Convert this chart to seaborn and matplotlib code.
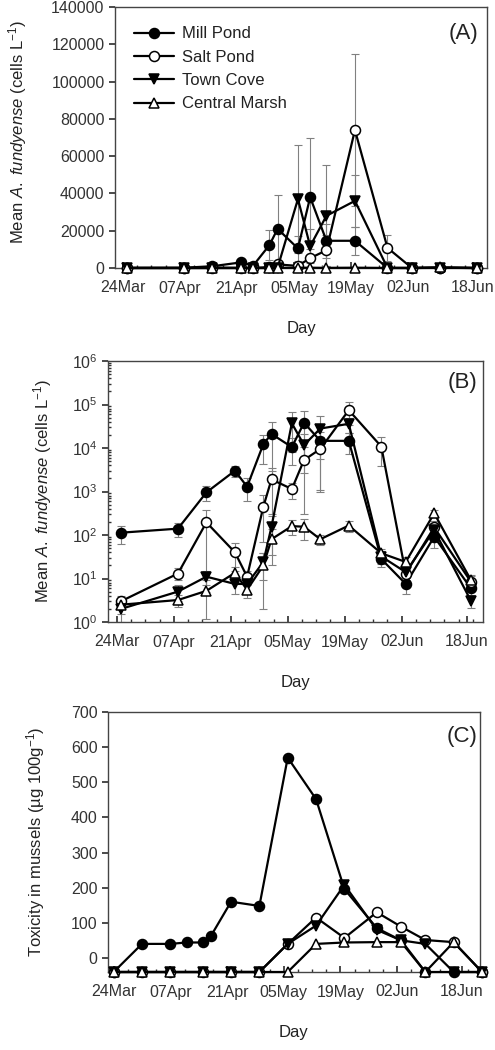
import numpy as np
import pandas as pd
import matplotlib
matplotlib.use('Agg')
import matplotlib.pyplot as plt
import seaborn as sns
from matplotlib.ticker import FixedLocator, MultipleLocator, LogLocator, NullFormatter

# days after 24 Mar, cell counts (A, B)
days_ab = [1, 15, 22, 29, 32, 36, 38, 43, 46, 50, 57, 65, 71, 78, 87]
mill_pond = [113, 140, 955, 3000, 1290, 12300, 21000, 10500, 38000, 14600, 14600, 28, 7.5, 91, 6]
mill_pond_sd = [50, 50, 350, 900, 700, 8000, 18000, 6500, 32000, 9000, 7500, 10, 3, 40, 2]
salt_pond = [3, 13, 195, 40, 11, 450, 1900, 1140, 5300, 9500, 74000, 10800, 13, 150, 8.5]
salt_pond_sd = [1, 4, 190, 25, 4, 380, 1600, 450, 5000, 8400, 41000, 7000, 4, 60, 3]
town_cove = [2, 5, 11, 7.5, 7.5, 24, 155, 37000, 11700, 28000, 36000, 32, 14, 130, 3.1]
town_cove_sd = [1, 2, 4, 3, 3, 15, 120, 29000, 9000, 27000, 14000, 10, 5, 60, 1]
central_marsh = [2.5, 3.2, 5.2, 13.5, 5.5, 20, 80, 160, 155, 80, 165, 38, 24, 315, 9.3]
central_marsh_sd = [1, 1, 4, 5, 2, 18, 60, 60, 80, 20, 50, 10, 8, 60, 3]

# toxicity (C); ND = below detection, drawn on the floor; nan = not sampled
ND = -40
nan = np.nan
days_c = [0, 7, 14, 18, 22, 24, 29, 36, 43, 50, 57, 65, 71, 77, 84, 91]
mill_pond_tox = [ND, 40, 40, 44, 44, 62, 160, 148, 570, 452, 196, 85, 50, ND, ND, ND]
salt_pond_tox = [ND, ND, ND, nan, ND, nan, ND, ND, 40, 115, 57, 130, 89, 51, 45, ND]
town_cove_tox = [ND, ND, ND, nan, ND, nan, ND, ND, 40, 92, 208, 80, 50, 40, ND, ND]
central_marsh_tox = [ND, ND, ND, nan, ND, nan, ND, ND, ND, 40, 44, 45, 45, ND, 45, ND]

sites = ['Mill Pond', 'Salt Pond', 'Town Cove', 'Central Marsh']
tick_days = [0, 14, 28, 42, 56, 70, 86]
tick_labels = ['24Mar', '07Apr', '21Apr', '05May', '19May', '02Jun', '18Jun']

styles = {
    'Mill Pond': ('o', 'black'),
    'Salt Pond': ('o', 'white'),
    'Town Cove': ('v', 'black'),
    'Central Marsh': ('^', 'white'),
}

sns.set_theme(style='white')
plt.rcParams['font.family'] = ['Liberation Sans', 'DejaVu Sans']
plt.rcParams['mathtext.fontset'] = 'custom'
plt.rcParams['mathtext.rm'] = 'Liberation Sans'
plt.rcParams['mathtext.it'] = 'Liberation Sans:italic'
plt.rcParams['text.color'] = '#222222'
plt.rcParams['axes.labelcolor'] = '#222222'
plt.rcParams['xtick.color'] = '#333333'
plt.rcParams['ytick.color'] = '#333333'


def draw(ax, days, values, sd=None):
    for site, vals, err in zip(sites, values, sd if sd else [None] * 4):
        marker, face = styles[site]
        if err is not None:
            ax.errorbar(days, vals, yerr=err, fmt='none', ecolor='#808080',
                        elinewidth=0.8, capsize=3, capthick=0.8, zorder=1)
        sns.lineplot(x=days, y=vals, ax=ax, color='black', lw=1.6,
                     marker=marker, markersize=7.2, markerfacecolor=face,
                     markeredgecolor='black', markeredgewidth=1.1,
                     estimator=None, sort=False, label=site, clip_on=False,
                     zorder=3)


def style_axis(ax, letter, lx, ly):
    for s in ax.spines.values():
        s.set_color('#444444')
        s.set_linewidth(1.0)
    ax.xaxis.set_major_locator(FixedLocator(tick_days))
    ax.set_xticklabels(tick_labels)
    ax.xaxis.set_minor_locator(MultipleLocator(3.5))
    ax.tick_params(axis='x', which='major', direction='in', length=4, pad=9,
                   labelsize=11.5, bottom=True)
    ax.tick_params(axis='x', which='minor', direction='in', length=2.5, bottom=True)
    ax.tick_params(axis='y', which='major', direction='out', length=4,
                   labelsize=11.5, left=True)
    ax.set_xlabel('Day', fontsize=12, labelpad=18)
    ax.text(lx, ly, letter, transform=ax.transAxes, ha='right', va='center',
            fontsize=16)


fig = plt.figure(figsize=(4.95, 10.5), dpi=100)
W, H = 495, 1050

# panel A
ax_a = fig.add_axes([115 / W, 1 - 268 / H, 372 / W, 261 / H])
draw(ax_a, days_ab, [mill_pond, salt_pond, town_cove, central_marsh],
     [mill_pond_sd, salt_pond_sd, town_cove_sd, central_marsh_sd])
ax_a.set_xlim(-1.95, 89.45)
ax_a.set_ylim(0, 140000)
ax_a.set_yticks(range(0, 140001, 20000))
style_axis(ax_a, '(A)', 0.976, 0.90)
ax_a.set_ylabel(r'Mean $\mathit{A.\ fundyense}$ (cells L$^{\mathregular{-1}}$)', fontsize=12)
ax_a.yaxis.set_label_coords(-0.232, 0.52)
ax_a.legend(loc='upper left', frameon=False, fontsize=12, handlelength=2.4,
            handletextpad=0.5, labelspacing=0.5, borderaxespad=0.3,
            bbox_to_anchor=(0.02, 0.97))

# panel B
ax_b = fig.add_axes([108 / W, 1 - 622 / H, 375 / W, 261 / H])
ax_b.set_yscale('log')
draw(ax_b, days_ab, [mill_pond, salt_pond, town_cove, central_marsh],
     [mill_pond_sd, salt_pond_sd, town_cove_sd, central_marsh_sd])
ax_b.get_legend().remove()
ax_b.set_xlim(-2.2, 90)
ax_b.set_ylim(1, 1e6)
ax_b.yaxis.set_major_locator(LogLocator(base=10, numticks=10))
ax_b.yaxis.set_minor_locator(LogLocator(base=10, subs=np.arange(2, 10), numticks=20))
ax_b.yaxis.set_minor_formatter(NullFormatter())
ax_b.tick_params(axis='y', which='minor', direction='in', length=2, left=True)
style_axis(ax_b, '(B)', 0.984, 0.916)
ax_b.set_ylabel(r'Mean $\mathit{A.\ fundyense}$ (cells L$^{\mathregular{-1}}$)', fontsize=12)
ax_b.yaxis.set_label_coords(-0.145, 0.5)

# panel C
ax_c = fig.add_axes([108 / W, 1 - 972 / H, 372 / W, 260 / H])
draw(ax_c, days_c, [mill_pond_tox, salt_pond_tox, town_cove_tox, central_marsh_tox])
ax_c.get_legend().remove()
ax_c.set_xlim(-1.4, 90.5)
ax_c.set_ylim(-40, 700)
ax_c.set_yticks(range(0, 701, 100))
style_axis(ax_c, '(C)', 0.992, 0.904)
ax_c.set_ylabel(r'Toxicity in mussels (µg 100g$^{\mathregular{-1}}$)', fontsize=12)
ax_c.yaxis.set_label_coords(-0.163, 0.5)

fig.savefig('out.png', dpi=100)
